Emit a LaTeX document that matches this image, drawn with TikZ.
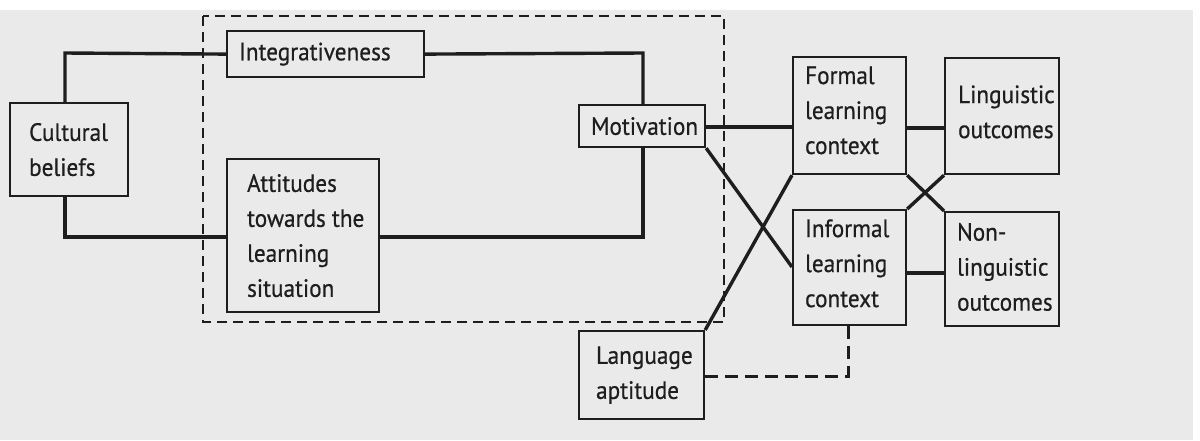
\documentclass[tikz,border=0pt]{standalone}
\usepackage{fontspec}
\setmainfont[FakeStretch=0.93, FakeBold=0.6]{PT Sans}
\definecolor{paper}{HTML}{EAEAEA}
\definecolor{ink}{HTML}{1E1E1E}
\tikzset{
  box/.style={draw=ink, line width=2.2pt, anchor=north west, inner xsep=0pt, inner ysep=0pt,
    font=\fontsize{25}{35}\selectfont, text=ink},
  link/.style={draw=ink, line width=3.4pt},
  dlink/.style={draw=ink, line width=3pt, dash pattern=on 13pt off 7pt},
  frame/.style={draw=ink, line width=1.8pt, dash pattern=on 10pt off 6pt},
}
\begin{document}
\begin{tikzpicture}[x=1pt,y=-1pt]
\useasboundingbox (0,0) rectangle (1200,440);
\fill[white] (0,0) rectangle (1200,440);
\fill[paper] (0,10) rectangle (1193,440);
\draw[frame] (203,16) rectangle (724,322);

\node[box, minimum width=118pt, minimum height=93pt] (cult) at (9,102)
  {\makebox[118pt][l]{\hspace*{19pt}\parbox{99pt}{Cultural\\beliefs}}};
\node[box, minimum width=197pt, minimum height=46pt] (integ) at (226,30)
  {\makebox[197pt][l]{\hspace*{12pt}Integrativeness}};
\node[box, minimum width=152pt, minimum height=153pt] (att) at (226,158)
  {\makebox[152pt][l]{\hspace*{20pt}\parbox{130pt}{Attitudes\\towards the\\learning\\situation}}};
\node[box, minimum width=126pt, minimum height=42pt] (motiv) at (578,104)
  {\makebox[126pt][l]{\hspace*{12pt}Motivation}};
\node[box, minimum width=125pt, minimum height=88pt] (lang) at (578,330)
  {\makebox[125pt][l]{\hspace*{17pt}\parbox{105pt}{Language\\aptitude}}};
\node[box, minimum width=113pt, minimum height=117pt] (formal) at (792,56)
  {\makebox[113pt][l]{\hspace*{12pt}\raisebox{-1pt}[0pt][0pt]{\parbox{100pt}{Formal\\learning\\context}}}};
\node[box, minimum width=113pt, minimum height=115pt] (informal) at (792,209)
  {\makebox[113pt][l]{\hspace*{12pt}\raisebox{-2pt}[0pt][0pt]{\parbox{100pt}{Informal\\learning\\context}}}};
\node[box, minimum width=114pt, minimum height=116pt] (ling) at (944,57)
  {\makebox[114pt][l]{\hspace*{13pt}\raisebox{-2pt}[0pt][0pt]{\parbox{100pt}{Linguistic\\outcomes}}}};
\node[box, minimum width=114pt, minimum height=114pt] (nonling) at (944,211)
  {\makebox[114pt][l]{\hspace*{12pt}\raisebox{-4pt}[0pt][0pt]{\parbox{100pt}{Non-\\linguistic\\outcomes}}}};

% connectors
\draw[link] (cult.north -| 65,0) -- (65,53) -- (integ.west);
\draw[link] (cult.south -| 65,0) -- (65,237) -- (att.west |- 65,237);
\draw[link] (integ.east) -- (643,53) -- (motiv.north -| 643,0);
\draw[link] (att.east |- 0,237) -- (643,237) -- (motiv.south -| 643,0);
\draw[link] (motiv.east |- 0,127) -- (formal.west |- 0,127);
\draw[link] (motiv.south east) -- (informal.west |- 0,267);
\draw[link] (lang.north east) -- (formal.south west);
\draw[link] (formal.east |- 0,128) -- (ling.west |- 0,128);
\draw[link] (informal.east |- 0,273) -- (nonling.west |- 0,273);
\draw[link] (formal.south east) -- (nonling.north west);
\draw[link] (informal.north east) -- (ling.south west);
\draw[dlink] (lang.east |- 0,376) -- (848,376) -- (informal.south -| 848,0);
\end{tikzpicture}
\end{document}
